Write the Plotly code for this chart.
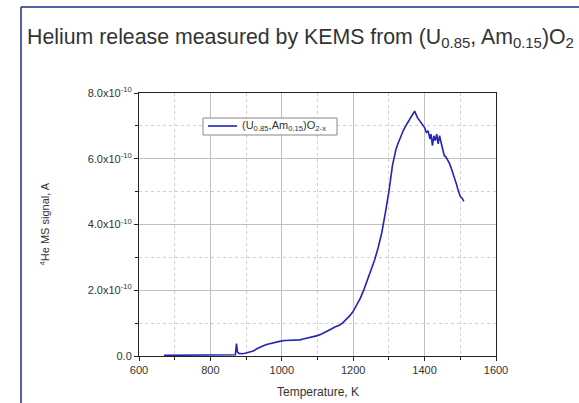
import plotly.graph_objects as go

# Temperature (K) and 4He MS signal (units of 1e-10 A)
temperature = [670, 700, 730, 760, 790, 820, 850, 870, 873, 876, 880, 890, 900, 910, 920, 930, 940, 950,
               960, 970, 980, 990, 1000, 1010, 1020, 1030, 1040, 1050, 1060, 1070, 1080, 1090, 1100,
               1110, 1120, 1130, 1140, 1150, 1160, 1170, 1180, 1190, 1200, 1210, 1220, 1230, 1240,
               1250, 1260, 1270, 1280, 1290, 1300, 1310, 1315, 1320, 1325, 1330, 1340, 1350, 1360,
               1365, 1372, 1380, 1390, 1400, 1405, 1410, 1415, 1418, 1422, 1426, 1430, 1434, 1438,
               1442, 1446, 1450, 1455, 1460, 1465, 1470, 1475, 1480, 1485, 1490, 1495, 1500, 1505, 1510]
signal_e10 = [0.02, 0.02, 0.03, 0.02, 0.03, 0.03, 0.03, 0.04, 0.38, 0.12, 0.08, 0.07, 0.09, 0.11, 0.15,
              0.22, 0.28, 0.32, 0.36, 0.39, 0.42, 0.44, 0.46, 0.47, 0.47, 0.49, 0.48, 0.49, 0.52, 0.54,
              0.56, 0.59, 0.62, 0.66, 0.71, 0.77, 0.83, 0.89, 0.93, 1.0, 1.1, 1.22, 1.36, 1.55, 1.76,
              2.02, 2.32, 2.62, 2.92, 3.3, 3.75, 4.35, 5.0, 5.8, 6.1, 6.3, 6.45, 6.6, 6.85, 7.05, 7.25,
              7.35, 7.45, 7.25, 7.1, 6.95, 6.8, 6.85, 6.6, 6.75, 6.4, 6.7, 6.55, 6.75, 6.45, 6.7, 6.5,
              6.3, 6.1, 6.05, 5.95, 5.85, 5.7, 5.55, 5.4, 5.2, 5.0, 4.85, 4.8, 4.7]

y_tickvals = [0, 2, 4, 6, 8]
y_ticktext = ["0.0", "2.0x10<sup>-10</sup>", "4.0x10<sup>-10</sup>", "6.0x10<sup>-10</sup>", "8.0x10<sup>-10</sup>"]
x_tickvals = [600, 800, 1000, 1200, 1400, 1600]

series_name = "(U<sub>0.85</sub>,Am<sub>0.15</sub>)O<sub>2-x</sub>"
title_text = "Helium release measured by KEMS from (U<sub>0.85</sub>, Am<sub>0.15</sub>)O<sub>2</sub>"
line_color = "#2424b4"

fig = go.Figure()
fig.add_trace(go.Scatter(x=temperature, y=signal_e10, mode="lines", name=series_name,
                         line=dict(color=line_color, width=1.6), showlegend=False))

W, H = 579, 403
ml, mr, mt, mb = 139, 83, 93, 47
pw, ph = W - ml - mr, H - mt - mb

def px_x(p):
    return (p - ml) / pw

def px_y(p):
    return (H - mb - p) / ph

axis_common = dict(showline=True, linecolor="#222", linewidth=1, mirror=True,
                   showgrid=True, gridcolor="#c0c0c0", gridwidth=1, zeroline=False,
                   ticks="outside", ticklen=4, tickcolor="#222", automargin=False,
                   tickfont=dict(size=11, color="#333"))

fig.update_layout(
    width=W, height=H,
    margin=dict(l=ml, r=mr, t=mt, b=mb),
    paper_bgcolor="white", plot_bgcolor="white",
    font=dict(family="Liberation Sans, Arial, sans-serif", color="#333"),
    showlegend=False,
    xaxis=dict(range=[600, 1600], tickvals=x_tickvals,
               minor=dict(dtick=100, tick0=600, showgrid=True, griddash="dot", gridcolor="#d0d0d0",
                          ticks="outside", ticklen=3, tickcolor="#222"),
               **axis_common),
    yaxis=dict(range=[0, 8], tickvals=y_tickvals, ticktext=y_ticktext,
               minor=dict(dtick=1, tick0=0, showgrid=True, griddash="dot", gridcolor="#d0d0d0",
                          ticks="outside", ticklen=3, tickcolor="#222"),
               **axis_common),
)

# axis titles
fig.add_annotation(text="Temperature, K", xref="paper", yref="paper",
                   x=0.5, y=px_y(392), xanchor="center", yanchor="middle",
                   showarrow=False, font=dict(size=12, color="#333"))
fig.add_annotation(text="<sup>4</sup>He MS signal, A", xref="paper", yref="paper",
                   x=px_x(44), y=0.5, xanchor="center", yanchor="middle", textangle=-90,
                   showarrow=False, font=dict(size=11, color="#333"))

fig.add_annotation(text=title_text, xref="paper", yref="paper",
                   x=px_x(25), y=px_y(38), xanchor="left", yanchor="middle",
                   showarrow=False, font=dict(size=21.3, color="#333"))

# legend box (drawn manually to match compact size)
fig.add_shape(type="rect", xref="paper", yref="paper", layer="above",
              x0=px_x(203), x1=px_x(337), y0=px_y(118), y1=px_y(135),
              line=dict(color="#888", width=1), fillcolor="white")
fig.add_shape(type="line", xref="paper", yref="paper", layer="above",
              x0=px_x(208), x1=px_x(237), y0=px_y(126), y1=px_y(126),
              line=dict(color=line_color, width=1.6))
fig.add_annotation(text=series_name, xref="paper", yref="paper",
                   x=px_x(240), y=px_y(126), xanchor="left", yanchor="middle",
                   showarrow=False, font=dict(size=11, color="#333"))

# slide frame
fig.add_shape(type="line", xref="paper", yref="paper",
              x0=px_x(21), x1=px_x(21), y0=px_y(7), y1=px_y(410),
              line=dict(color="#1c2a84", width=1.5))
fig.add_shape(type="line", xref="paper", yref="paper",
              x0=px_x(21), x1=px_x(590), y0=px_y(7), y1=px_y(7),
              line=dict(color="#1c2a84", width=1.5))

fig.write_html("out.html", config={"displayModeBar": False},
               post_script="document.body.style.margin='0';document.body.style.overflow='hidden';")
